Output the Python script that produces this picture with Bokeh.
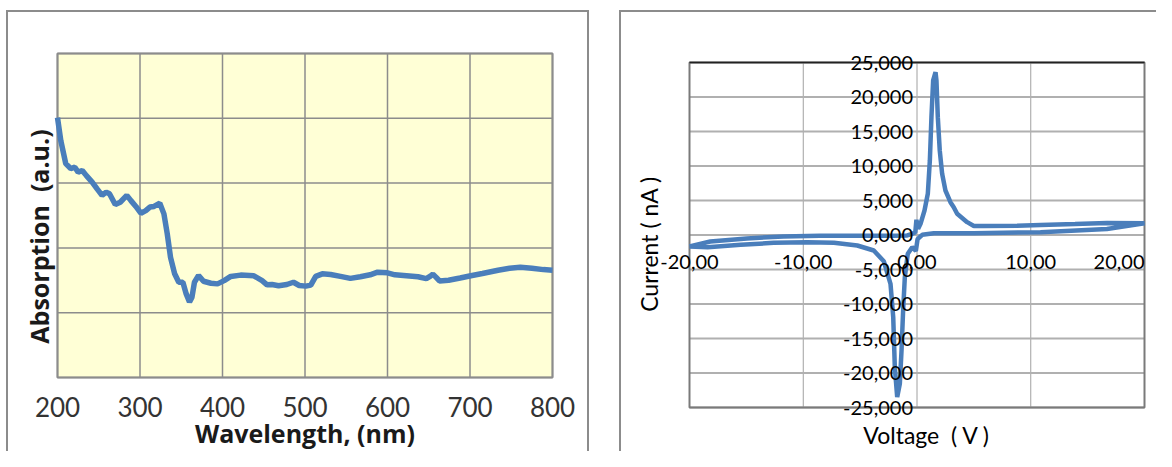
import math
from bokeh.plotting import figure
from bokeh.layouts import row
from bokeh.models import LabelSet, Label, ColumnDataSource
from bokeh.core.properties import value
from bokeh.embed import file_html
from bokeh.resources import INLINE

# ---------------- Left panel data: absorption spectrum ----------------
wavelength = [200, 204, 210, 216, 221, 225, 230, 235, 242, 248, 254, 259, 263, 270, 276,
              284, 289, 295, 301, 307, 312, 317, 324, 329, 333, 337, 342, 347, 352, 356,
              360, 363, 366, 371, 377, 386, 394, 402, 410, 422, 438, 448, 454, 460, 468,
              478, 486, 493, 501, 507, 513, 521, 531, 543, 555, 567, 579, 588, 600, 609,
              623, 637, 647, 652, 655, 659, 663, 674, 688, 701, 715, 734, 748, 761, 775,
              789, 800]
absorption = [0.802, 0.731, 0.660, 0.645, 0.649, 0.634, 0.639, 0.623, 0.603, 0.582, 0.562,
              0.572, 0.567, 0.534, 0.541, 0.562, 0.546, 0.528, 0.507, 0.515, 0.526, 0.528,
              0.538, 0.505, 0.444, 0.371, 0.320, 0.294, 0.294, 0.258, 0.233, 0.248, 0.294,
              0.315, 0.297, 0.291, 0.289, 0.299, 0.312, 0.316, 0.314, 0.299, 0.286, 0.287,
              0.283, 0.287, 0.294, 0.284, 0.282, 0.285, 0.312, 0.320, 0.318, 0.312, 0.306,
              0.311, 0.317, 0.325, 0.323, 0.317, 0.314, 0.311, 0.305, 0.313, 0.319, 0.309,
              0.298, 0.300, 0.307, 0.314, 0.321, 0.331, 0.337, 0.340, 0.337, 0.333, 0.331]
wl_ticks = [200, 300, 400, 500, 600, 700, 800]
wl_labels = ["200", "300", "400", "500", "600", "700", "800"]
abs_grid = [0.0, 0.2, 0.4, 0.6, 0.8, 1.0]
wl_title = "Wavelength, (nm)"
abs_title = "Absorption \u00a0(a.u.)"

# ---------------- Right panel data: cyclic voltammogram ----------------
voltage = [-20, -18.4, -15.5, -12.6, -9.65, -7.3, -5.25, -3.8, -2.92, -2.33, -2.09, -1.95,
           -1.74, -1.51, -1.36, -1.22, -1.07, -0.81, -0.42, -0.1, 0.05, 0.46, 1.48, 5.0,
           10.86, 16.7, 20,
           16.7, 13.9, 10.86, 8.8, 5.87, 5.0, 4.41, 3.53, 3.23, 2.94, 2.5, 2.21, 2.0, 1.83,
           1.71, 1.63, 1.42, 1.27, 1.13, 0.95, 0.66, 0.31, 0.1, -0.05, -0.15, -0.42, -0.86,
           -2.13, -5.34, -8.55, -11.76, -14.96, -18.17, -20]
current = [-1650, -1760, -1420, -1130, -1040, -1130, -1520, -2250, -3800, -7070, -11910,
           -19160, -23500, -21570, -16740, -10940, -6110, -2730, -1760, -2300, -600, 30, 260,
           250, 410, 870, 1700,
           1750, 1600, 1450, 1350, 1300, 1300, 1860, 3070, 4030, 4760, 6450, 8870, 12250,
           17080, 22400, 23600, 22400, 17080, 10800, 5970, 3550, 1620, 900, 2200, 400, 170,
           -70, -100, -100, -100, -200, -500, -950, -1650]
v_ticks = [-20, -10, 0, 10, 20]
v_labels = ["-20,00", "-10,00", "0,00", "10,00", "20,00"]
i_ticks = [-25000, -20000, -15000, -10000, -5000, 0, 5000, 10000, 15000, 20000, 25000]
i_labels = ["-25,000", "-20,000", "-15,000", "-10,000", "-5,000", "0,000", "5,000",
            "10,000", "15,000", "20,000", "25,000"]
v_title = "Voltage \u00a0( V )"
i_title = "Current ( nA )"
axis_cross = 0  # the tick-label rows of the right chart sit on the zero lines

BLUE = "#4A7EBB"
TICK_FONT = "Lato"
TITLE_FONT = "Open Sans"
FRAME_COLOR = "#8c8c8c"
H = 451


def padded_range(lo, hi, span_px, pad_lo_px, pad_hi_px):
    per_px = (hi - lo) / span_px
    return (lo - pad_lo_px * per_px, hi + pad_hi_px * per_px)


# ---------------- Left figure (canvas 589 x 451, chart area 495 x 324) ----------------
W1 = 589
wl_lo, wl_hi = min(wl_ticks), max(wl_ticks)
ab_lo, ab_hi = min(abs_grid), max(abs_grid)
p1 = figure(width=W1, height=H,
            x_range=padded_range(wl_lo, wl_hi, 495, 57, W1 - 57 - 495),
            y_range=padded_range(ab_lo, ab_hi, 324, H - 53 - 324, 53),
            x_axis_type=None, y_axis_type=None, min_border=0,
            output_backend="svg", toolbar_location=None)
p1.background_fill_color = None
p1.border_fill_color = None
p1.outline_line_color = None

p1.quad(left=wl_lo, right=wl_hi, bottom=ab_lo, top=ab_hi, fill_color="#FFFFD6", line_color=None)
p1.segment(x0=wl_ticks, y0=[ab_lo] * len(wl_ticks), x1=wl_ticks, y1=[ab_hi] * len(wl_ticks),
           line_color="#8c8c8c", line_width=1.5)
p1.segment(x0=[wl_lo] * len(abs_grid), y0=abs_grid, x1=[wl_hi] * len(abs_grid), y1=abs_grid,
           line_color="#8c8c8c", line_width=1.5)
p1.quad(left=wl_lo, right=wl_hi, bottom=ab_lo, top=ab_hi, fill_color=None,
        line_color="#8c8c8c", line_width=2)
p1.line(wavelength, absorption, line_width=5.5, color=BLUE)

wl_src = ColumnDataSource(dict(x=wl_ticks, y=[ab_lo] * len(wl_ticks), text=wl_labels))
p1.add_layout(LabelSet(x="x", y="y", text="text", source=wl_src, text_align="center",
                       text_baseline="top", y_offset=-19, text_font=value(TICK_FONT),
                       text_font_size="26px", text_color="#333333"))
p1.add_layout(Label(x=(wl_lo + wl_hi) / 2, y=ab_lo, y_offset=-55, text=wl_title,
                    text_align="center", text_baseline="middle", text_font=TITLE_FONT,
                    text_font_style="bold", text_font_size="25px", text_color="#1a1a1a"))
p1.add_layout(Label(x=wl_lo, y=(ab_lo + ab_hi) / 2, x_offset=-19, y_offset=-21,
                    angle=math.pi / 2, text=abs_title, text_align="center",
                    text_baseline="middle", text_font=TITLE_FONT, text_font_style="bold",
                    text_font_size="25px", text_color="#1a1a1a"))
p1.styles = {"box-shadow": f"inset 0 10px 0 0 #ffffff, inset 6px 0 0 0 #ffffff, "
                           f"inset 0 12px 0 0 {FRAME_COLOR}, inset 8px 0 0 0 {FRAME_COLOR}, "
                           f"inset -2px 0 0 0 {FRAME_COLOR}"}

# ---------------- Right figure (canvas 567 x 451, chart area 455 x 345) ----------------
W2 = 1156 - W1
v_lo, v_hi = min(v_ticks), max(v_ticks)
i_lo, i_hi = min(i_ticks), max(i_ticks)
p2 = figure(width=W2, height=H,
            x_range=padded_range(v_lo, v_hi, 455, 689 - W1, W2 - (689 - W1) - 455),
            y_range=padded_range(i_lo, i_hi, 345, H - 62 - 345, 62),
            x_axis_type=None, y_axis_type=None, min_border=0,
            output_backend="svg", toolbar_location=None)
p2.background_fill_color = None
p2.border_fill_color = None
p2.outline_line_color = None

n_v, n_i = len(v_ticks), len(i_ticks)
p2.quad(left=v_lo, right=v_hi, bottom=i_lo, top=i_hi, fill_color="white", line_color=None)
p2.segment(x0=v_ticks, y0=[i_lo] * n_v, x1=v_ticks, y1=[i_hi] * n_v,
           line_color="#a0a0a0", line_width=1)
p2.segment(x0=[v_lo] * n_i, y0=i_ticks, x1=[v_hi] * n_i, y1=i_ticks,
           line_color="#b0b0b0", line_width=2)
p2.quad(left=v_lo, right=v_hi, bottom=i_lo, top=i_hi, fill_color=None,
        line_color="#7a7a7a", line_width=2)
p2.segment(x0=[v_lo], y0=[i_hi], x1=[v_hi], y1=[i_hi], line_color="#222222", line_width=1.5)
p2.line(voltage, current, line_width=4.5, color=BLUE)

y_src = ColumnDataSource(dict(x=[axis_cross] * n_i, y=i_ticks, text=i_labels))
x_src = ColumnDataSource(dict(x=v_ticks, y=[axis_cross] * n_v, text=v_labels,
                              align=["right" if t == v_hi else "center" for t in v_ticks]))
p2.add_layout(LabelSet(x="x", y="y", text="text", source=y_src, text_align="right",
                       text_baseline="middle", x_offset=-4, text_font=value(TICK_FONT),
                       text_font_size="20px", text_color="black"))
p2.add_layout(LabelSet(x="x", y="y", text="text", source=x_src, text_align="align",
                       text_baseline="top", y_offset=-20, text_font=value(TICK_FONT),
                       text_font_size="20px", text_color="black"))
p2.add_layout(Label(x=(v_lo + v_hi) / 2, y=i_lo, x_offset=10, y_offset=-27, text=v_title,
                    text_align="center", text_baseline="middle", text_font=TICK_FONT,
                    text_font_size="23px", text_color="black"))
p2.add_layout(Label(x=v_lo, y=(i_lo + i_hi) / 2, x_offset=-41, y_offset=-9,
                    angle=math.pi / 2, text=i_title, text_align="center",
                    text_baseline="middle", text_font=TICK_FONT, text_font_size="23px",
                    text_color="black"))
p2.styles = {"box-shadow": f"inset 0 10px 0 0 #ffffff, inset 30px 0 0 0 #ffffff, "
                           f"inset 0 12px 0 0 {FRAME_COLOR}, inset 32px 0 0 0 {FRAME_COLOR}"}

layout = row(p1, p2)
open("out.html", "w").write(file_html(layout, INLINE))
